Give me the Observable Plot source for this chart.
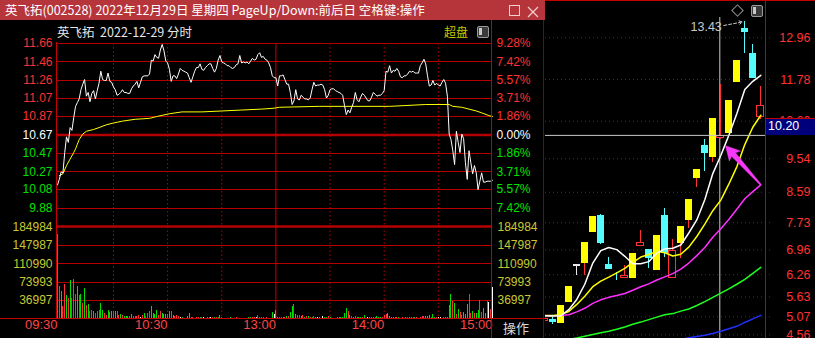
<!DOCTYPE html>
<html><head><meta charset="utf-8">
<script src="https://cdn.jsdelivr.net/npm/d3@7"></script>
<script src="https://cdn.jsdelivr.net/npm/@observablehq/plot@0.6"></script>
<style>
html,body{margin:0;padding:0;background:#000;}
#root{position:relative;width:815px;height:338px;overflow:hidden;background:#000;font-family:"Liberation Sans",Arial,sans-serif;}
.abs{position:absolute;}
.cjk{font-family:"Noto Sans CJK SC","Noto Sans",sans-serif;white-space:pre;}
</style></head>
<body><div id="root"></div>
<script>
// ---------------- intraday data (英飞拓 002528, 2022-12-29) ----------------
const preClose = 10.67;
const priceTicks = [11.66, 11.46, 11.26, 11.07, 10.87, 10.67, 10.47, 10.27, 10.08, 9.88];
const pctLabels = ["9.28%","7.42%","5.57%","3.71%","1.86%","0.00%","1.86%","3.71%","5.57%","7.42%"];
const volTicks = [184984, 147987, 110990, 73993, 36997];
const timeLabels = ["09:30","10:30","13:00","14:00","15:00"];
const timeSlots = [0, 61, 121, 181, 241];
const halfHourSlots = [31, 61, 91, 151, 181, 211];
const lunchSlot = 121;
const lastSlot = 241;

const price = [
10.13,10.19,10.27,10.26,10.48,10.65,10.59,10.75,10.72,10.86,
10.98,11.02,11.06,11.16,11.22,11.27,11.09,11.13,11.03,11.12,
11.15,11.06,11.15,11.23,11.36,11.27,11.26,11.26,11.34,11.25,
11.24,11.19,11.16,11.10,11.11,11.13,11.16,11.13,11.13,11.12,
11.12,11.17,11.20,11.22,11.25,11.18,11.24,11.30,11.31,11.31,
11.31,11.33,11.48,11.47,11.54,11.51,11.50,11.59,11.65,11.58,
11.47,11.45,11.38,11.25,11.31,11.31,11.28,11.33,11.39,11.37,
11.36,11.35,11.34,11.29,11.24,11.30,11.36,11.40,11.40,11.44,
11.38,11.37,11.40,11.42,11.44,11.44,11.39,11.35,11.39,11.48,
11.53,11.46,11.45,11.44,11.42,11.42,11.40,11.39,11.40,11.43,
11.44,11.53,11.45,11.46,11.45,11.46,11.44,11.47,11.50,11.48,
11.49,11.54,11.56,11.51,11.52,11.49,11.48,11.45,11.40,11.31,11.29,
11.29,11.20,11.31,11.31,11.32,11.27,11.22,11.22,11.13,11.00,
11.04,11.16,11.06,11.05,11.10,11.08,11.06,11.06,11.05,11.07,
11.16,11.24,11.20,11.21,11.21,11.22,11.21,11.16,11.07,11.10,
11.16,11.17,11.17,11.15,11.14,11.13,11.12,11.10,10.99,10.89,
10.94,10.91,10.97,11.02,11.13,11.05,11.03,11.08,11.12,11.10,
11.07,11.04,11.04,11.08,11.13,11.11,11.09,11.10,11.10,11.12,
11.15,11.36,11.35,11.42,11.34,11.37,11.36,11.39,11.36,11.30,
11.29,11.31,11.31,11.33,11.36,11.35,11.36,11.34,11.34,11.34,
11.42,11.45,11.49,11.44,11.31,11.20,11.21,11.26,11.21,11.23,
11.21,11.20,11.24,11.27,11.23,11.09,10.68,10.62,10.50,10.35,
10.71,10.59,10.48,10.68,10.63,10.37,10.19,10.50,10.37,10.25,
10.34,10.26,10.08,10.17,10.26,10.16,10.16,10.17,10.17,10.17,10.18];

const avgSlots = [1,3,5,7,9,10,11,12,14,16,20,23,27,31,36,43,51,55,62,69,80,91,102,113,120,123,145,184,204,217,219,224,228,232,235,239,241];
const avgPrice = [10.23,10.25,10.34,10.41,10.48,10.52,10.57,10.62,10.68,10.71,10.73,10.75,10.78,10.80,10.82,10.84,10.85,10.87,10.90,10.92,10.92,10.93,10.94,10.95,10.96,10.97,10.98,10.98,11.00,11.00,10.98,10.97,10.95,10.93,10.91,10.88,10.87];

const volume = [
170000,66000,56000,26000,70000,48000,42000,78000,42000,80000,
50000,66000,48000,50000,32000,62000,28000,30000,16000,18000,
16000,12000,16000,18000,32000,18000,12000,8000,18000,14000,
16000,16000,16000,16000,8000,10000,8000,6000,6000,6000,
6000,10000,6000,6000,6000,8000,4000,8000,12000,6000,
12000,16000,26000,12000,10000,18000,8000,16000,12000,10000,
10000,10000,16000,16000,8000,6000,8000,6000,4000,4000,
2000,2000,6000,12000,4000,4000,2000,4000,4000,4000,
4000,4000,2000,4000,4000,4000,4000,4000,4000,4000,
8000,4000,2000,2000,2000,2000,4000,2000,2000,4000,
2000,2000,2000,2000,2000,2000,4000,4000,4000,4000,
4000,8000,4000,4000,4000,2000,4000,2000,2000,14000,
10000,18000,4000,4000,4000,4000,4000,6000,6000,14000,
26000,30000,10000,8000,8000,6000,8000,4000,6000,6000,
4000,4000,6000,4000,4000,4000,2000,6000,4000,4000,
6000,4000,2000,2000,2000,4000,4000,4000,4000,12000,
22000,16000,8000,6000,4000,6000,4000,4000,4000,4000,
8000,2000,4000,4000,4000,4000,4000,6000,4000,4000,
4000,8000,10000,12000,6000,4000,4000,4000,4000,4000,
2000,4000,2000,4000,4000,4000,4000,4000,4000,4000,
2000,4000,6000,6000,6000,6000,8000,4000,10000,4000,
4000,4000,4000,2000,4000,4000,4000,28000,50000,36000,
32000,10000,20000,14000,8000,14000,10000,30000,50000,12000,
16000,12000,12000,18000,38000,14000,22000,12000,36000,34000,
20000,64000];
// r = up tick, g = down tick, w = unchanged
const volDir = "rrgrrgrgrr"+"rgrgrgrgrr"+"grrrggrrgg"+"grgrrgrggg"+"rgrrrrwrgr"+"rrggggrrgg"+"grgrgrrrwg"+"rwggrrgrrg"+"rwrggwrgrg"+"grgrrggrgr"+"rwwwwrggrr"+"wrgrrgrwrg"+"wggrrgrgrg"+"grgrrgrgrg"+"rgrgwgrwgg"+"rgwgwggggg"+"grgrgrgggr"+"grwgrrrggg"+"rrrgggggrg"+"grwgrggrgr"+"grrrgggrgg"+"rwwgrggggr"+"grgrrgggrr"+"grggrrggrw"+"rw";

// ---------------- daily K-line data ----------------
const kOpen  = [4.96,4.98,4.89,5.48,6.53,6.57,7.46,7.93,6.55,6.22,6.17,6.14,7.08,6.98,6.38,7.93,6.17,7.13,7.79,8.97,9.91,9.58,10.13,10.26,11.70,13.21,12.52,10.71];
const kHigh  = [5.03,5.04,5.40,5.94,6.53,7.18,7.90,7.95,6.76,6.33,6.52,6.85,7.51,6.98,7.38,8.12,7.25,7.63,8.39,9.23,10.08,10.67,11.65,11.20,12.32,13.43,12.76,11.58];
const kLow   = [4.95,4.85,4.89,5.48,6.24,6.24,7.46,7.12,6.41,6.10,6.17,6.14,7.08,6.43,6.38,6.76,6.17,6.73,7.56,8.72,9.19,9.44,10.08,10.26,11.70,12.51,11.82,10.64];
const kClose = [5.01,4.91,5.40,5.94,6.53,7.18,7.90,7.13,6.42,6.20,6.23,6.85,7.17,6.71,7.38,6.85,6.94,7.63,8.39,9.23,9.70,10.67,10.18,11.20,12.32,13.12,11.82,11.02];
const ma5   = [5.10,5.09,5.10,5.27,5.56,5.99,6.59,6.94,7.03,6.97,6.78,6.57,6.57,6.63,6.87,6.99,7.01,7.10,7.44,7.81,8.38,9.12,9.63,10.20,10.81,11.50,11.73,11.90];
const ma10  = [5.11,5.11,5.13,5.22,5.42,5.65,5.92,6.08,6.19,6.31,6.44,6.61,6.76,6.83,6.92,6.88,6.79,6.84,7.04,7.34,7.69,8.07,8.37,8.82,9.31,9.94,10.43,10.77];
const ma20  = [5.10,5.10,5.11,5.13,5.21,5.31,5.45,5.55,5.62,5.67,5.73,5.82,5.92,6.00,6.11,6.20,6.29,6.42,6.59,6.80,7.03,7.32,7.56,7.82,8.11,8.41,8.61,8.80];
const ma60  = [4.31,4.35,4.39,4.43,4.47,4.52,4.57,4.62,4.66,4.72,4.78,4.86,4.92,4.99,5.06,5.13,5.16,5.23,5.29,5.39,5.50,5.62,5.74,5.86,5.99,6.13,6.30,6.47];
const ma120 = [NaN,NaN,NaN,NaN,NaN,NaN,NaN,NaN,NaN,NaN,NaN,NaN,NaN,NaN,NaN,4.39,4.41,4.43,4.475,4.51,4.55,4.60,4.66,4.73,4.80,4.91,5.01,5.11];
const kTicks = [12.96, 11.78, 10.60, 9.54, 8.59, 7.73, 6.96, 6.26, 5.63, 5.07, 4.56];
const crossIndex = 22;          // 2022-12-29
const crossValue = 10.20;
const arrowTipValue = 9.91;

// ---------------- colours ----------------
const GRID = "#b40000", FRAME = "#c80000", RED = "#ff3232", GREEN = "#00e000", YEL = "#c8c832";
const CYAN = "#54fcfc", LIMIT = "#ffff00";
const lblColor = v => Math.abs(v - preClose) < 0.005 ? "#ffffff" : (v > preClose ? RED : GREEN);

const root = document.getElementById("root");
function place(el, left, top){ const d=document.createElement("div"); d.className="abs"; d.style.left=left+"px"; d.style.top=top+"px"; d.appendChild(el); root.appendChild(d); return d; }
function box(css){ const d=document.createElement("div"); d.className="abs"; d.style.cssText=css; root.appendChild(d); return d; }
function label(text, css, cls){ const d=document.createElement("div"); d.className="abs "+(cls||""); d.style.cssText=css; d.textContent=text; root.appendChild(d); return d; }

// ---------------- left: price panel ----------------
const yTop = priceTicks[0], yBottom = 2*preClose - priceTicks[0];
const priceRows = price.map((p,i)=>({i,p}));
const avgRows = avgSlots.map((s,j)=>({i:s,p:avgPrice[j]}));
const pricePlot = Plot.plot({
  width: 545, height: 338, marginLeft: 57, marginRight: 53, marginTop: 43, marginBottom: 112,
  x: {domain: [0, lastSlot], axis: null},
  y: {domain: [yBottom, yTop], axis: null},
  color: {type: "identity"},
  style: {background: "transparent", fontFamily: "Liberation Sans, Arial, sans-serif"},
  marks: [
    Plot.ruleY(priceTicks.filter(v => Math.abs(v-preClose)>0.005), {stroke: GRID, strokeWidth: 1, shapeRendering: "crispEdges"}),
    Plot.ruleY([preClose], {stroke: GRID, strokeWidth: 2.5}),
    Plot.ruleY([yBottom], {stroke: GRID, strokeWidth: 2.5}),
    Plot.ruleX(halfHourSlots, {stroke: GRID, strokeDasharray: "1.5,2.5"}),
    Plot.ruleX([lunchSlot], {stroke: FRAME}),
    Plot.line(avgRows, {x: "i", y: "p", stroke: "#ffff00", strokeWidth: 1}),
    Plot.line(priceRows, {x: "i", y: "p", stroke: "#ffffff", strokeWidth: 1}),
    Plot.text(priceTicks, {y: d=>d, text: d=>d.toFixed(2), frameAnchor: "left", dx: -5, textAnchor: "end", fill: d=>lblColor(d), fontSize: 12}),
    Plot.text(priceTicks, {y: d=>d, text: (d,i)=>pctLabels[i], frameAnchor: "right", dx: 4, textAnchor: "start", fill: d=>lblColor(d), fontSize: 12})
  ]
});
place(pricePlot, 0, 0);

// ---------------- left: volume panel ----------------
const dirColor = {r: RED, g: GREEN, w: "#ffffff"};
const volRows = volume.map((v,i)=>({i, v, c: dirColor[volDir[i]]}));
const volPlot = Plot.plot({
  width: 545, height: 338, marginLeft: 57, marginRight: 53, marginTop: 226.5, marginBottom: 19.5,
  x: {domain: [0, lastSlot], axis: null},
  y: {domain: [0, volTicks[0]], axis: null},
  color: {type: "identity"},
  style: {background: "transparent", fontFamily: "Liberation Sans, Arial, sans-serif"},
  marks: [
    Plot.ruleY(volTicks.slice(1), {stroke: GRID, shapeRendering: "crispEdges"}),
    Plot.ruleX(halfHourSlots, {stroke: GRID, strokeDasharray: "1.5,2.5"}),
    Plot.ruleX([lunchSlot], {stroke: FRAME}),
    Plot.ruleX(volRows, {x: "i", y1: 0, y2: "v", stroke: "c", strokeWidth: 1, shapeRendering: "crispEdges"}),
    Plot.text(volTicks, {y: d=>d, text: d=>String(d), frameAnchor: "left", dx: -5, textAnchor: "end", fill: YEL, fontSize: 12}),
    Plot.text(volTicks, {y: d=>d, text: d=>String(d), frameAnchor: "right", dx: 5, textAnchor: "start", fill: YEL, fontSize: 12}),
    Plot.text(timeLabels, {x: (d,i)=>timeSlots[i], text: d=>d, frameAnchor: "bottom", dy: 10, textAnchor: "end", fill: "#ff4646", fontSize: 13})
  ]
});
place(volPlot, 0, 0);

// frame lines of left window
box("left:56px;top:42px;width:1px;height:277px;background:"+FRAME);
box("left:491px;top:20px;width:1px;height:318px;background:"+FRAME);
box("left:0;top:318px;width:545px;height:1px;background:"+FRAME);
box("left:543px;top:20px;width:1px;height:318px;background:#8a0000");

// title bar
box("left:0;top:0;width:545px;height:20px;background:#b6353b");
label("英飞拓(002528) 2022年12月29日 星期四 PageUp/Down:前后日 空格键:操作", "left:5px;top:0;height:20px;line-height:20px;color:#fff;font-size:12.5px;", "cjk");
box("left:509px;top:5px;width:9px;height:9px;border:1px solid #f0d0d0;");
const xs = document.createElementNS("http://www.w3.org/2000/svg","svg");
xs.setAttribute("width","12"); xs.setAttribute("height","12");
xs.innerHTML = '<path d="M1,1L11,11M11,1L1,11" stroke="#f0d0d0" stroke-width="1.2"/>';
place(xs, 527, 4);

// subtitle row
label("英飞拓  2022-12-29 分时", "left:57px;top:22px;height:20px;line-height:20px;color:#e6e6e6;font-size:12.5px;", "cjk");
label("超盘", "left:444px;top:22px;height:20px;line-height:20px;color:#c8c800;font-size:12px;", "cjk");
box("left:477px;top:26px;width:10px;height:10px;border:1px solid #9a9a9a;border-radius:2px;background:#3a3a3a;");
box("left:479px;top:28px;width:3px;height:7px;background:#c8c8c8;");
label("操作", "left:503px;top:318px;height:20px;line-height:20px;color:#d8d8d8;font-size:13px;", "cjk");

// ---------------- right: K-line panel ----------------
const kxDom = [0.0875, 27.5875], kyDom = [4.456, 14.015];
const KW = 270, KH = 338, KMR = 50;
const xS = d3.scaleLinear(kxDom, [0, KW-KMR]);
const yS = d3.scaleLinear(kyDom, [KH, 0]);

const candles = kOpen.map((o,i)=>{
  const c = kClose[i], prev = i>0 ? kClose[i-1] : null;
  const lim = prev!=null && Math.abs(Math.round(prev*110)/100 - c) < 0.005;
  const kind = c > o ? (lim ? "limit" : "up") : (c < o ? "down" : "flat");
  return {i, o, h: kHigh[i], l: kLow[i], c, top: Math.max(o,c), bot: Math.min(o,c), kind};
});
const filled = candles.filter(d=>d.kind==="limit"||d.kind==="down");
const hollow = candles.filter(d=>d.kind==="up");
const flat = candles.filter(d=>d.kind==="flat");
const hw = 0.42;
const maRows = (arr) => arr.map((v,i)=>({i, v}));

// annotation geometry (pixel offsets turned back into data space)
const hiIdx = kHigh.indexOf(Math.max(...kHigh)), hiVal = kHigh[hiIdx];
const hx = xS(hiIdx), hy = yS(hiVal);
const hiArrow = [{x1: xS.invert(hx-21), y1: yS.invert(hy+4.3), x2: xS.invert(hx-2.5), y2: yS.invert(hy+0.8)}];
const T = [xS(crossIndex)+4.7, yS(arrowTipValue)], L = [xS(27), yS(ma20[27])];
const dx = L[0]-T[0], dy = L[1]-T[1], len = Math.hypot(dx,dy), ux = dx/len, uy = dy/len, nx = -uy, ny = ux;
const P = (a,b)=>({x: xS.invert(T[0]+a*ux+b*nx), y: yS.invert(T[1]+a*uy+b*ny)});
const poly = [P(0,0), P(14,7.5), P(12,2.6), {x: xS.invert(L[0]+0.6*nx), y: yS.invert(L[1]+0.6*ny)}, {x: xS.invert(L[0]-0.6*nx), y: yS.invert(L[1]-0.6*ny)}, P(12,-2.6), P(14,-7.5), P(0,0)];

const kPlot = Plot.plot({
  width: KW, height: KH, marginLeft: 0, marginRight: KMR, marginTop: 0, marginBottom: 0,
  x: {domain: kxDom, axis: null},
  y: {domain: kyDom, axis: null},
  color: {type: "identity"},
  style: {background: "transparent", fontFamily: "Liberation Sans, Arial, sans-serif"},
  marks: [
    Plot.ruleY(kTicks, {x1: () => kxDom[0], x2: () => kxDom[1] + 0.8, stroke: GRID, strokeDasharray: "1,3"}),
    // cross hair (vertical, just left of the selected candle)
    Plot.ruleX([crossIndex], {y1: kyDom[0], y2: yS.invert(17), dx: -1, stroke: "#c8c8c8"}),
    // candles
    Plot.ruleX(filled, {x: "i", y1: "l", y2: "h", stroke: d => d.kind==="limit" ? RED : CYAN, shapeRendering: "crispEdges"}),
    Plot.rect(filled, {x1: d=>d.i-hw, x2: d=>d.i+hw, y1: "bot", y2: "top", fill: d => d.kind==="limit" ? LIMIT : CYAN, shapeRendering: "crispEdges"}),
    Plot.ruleX(hollow, {x: "i", y1: "top", y2: "h", stroke: RED, shapeRendering: "crispEdges"}),
    Plot.ruleX(hollow, {x: "i", y1: "l", y2: "bot", stroke: RED, shapeRendering: "crispEdges"}),
    Plot.rect(hollow, {x1: d=>d.i-hw, x2: d=>d.i+hw, y1: "bot", y2: "top", fill: "#000", stroke: RED, shapeRendering: "crispEdges"}),
    Plot.ruleX(flat, {x: "i", y1: "l", y2: "h", stroke: "#e8e8e8", shapeRendering: "crispEdges"}),
    Plot.ruleY(flat, {x1: d=>d.i-hw, x2: d=>d.i+hw, y: "o", stroke: "#e8e8e8", strokeWidth: 1.5, shapeRendering: "crispEdges"}),
    // moving averages
    Plot.line(maRows(ma120), {x: "i", y: "v", stroke: "#2030ff"}),
    Plot.line(maRows(ma60), {x: "i", y: "v", stroke: "#20ff20"}),
    Plot.line(maRows(ma20), {x: "i", y: "v", stroke: "#ff30ff"}),
    Plot.line(maRows(ma10), {x: "i", y: "v", stroke: "#ffff00"}),
    Plot.line(maRows(ma5), {x: "i", y: "v", stroke: "#ffffff"}),
    // cross hair (horizontal)
    Plot.ruleY([crossValue], {stroke: "#c8c8c8"}),
    // max price annotation
    Plot.text([hiVal], {x: () => hiIdx, y: d=>d, text: d=>d.toFixed(2), dx: -23, dy: 5.5, textAnchor: "end", fill: "#c8c8c8", fontSize: 12.5}),
    Plot.arrow(hiArrow, {x1: "x1", y1: "y1", x2: "x2", y2: "y2", stroke: "#c8c8c8", strokeDasharray: "3,2", headLength: 5, strokeWidth: 1}),
    // drawn arrow
    Plot.line(poly, {x: "x", y: "y", fill: "#f838f8", stroke: "#f838f8", strokeWidth: 0.5}),
    // axis labels
    Plot.text(kTicks, {y: d=>d, text: d=>d.toFixed(2), frameAnchor: "right", dx: 45, textAnchor: "end", fill: RED, fontSize: 12.5})
  ]
});
place(kPlot, 545, 0);

// right panel chrome
box("left:545px;top:0;width:270px;height:1px;background:"+FRAME);
box("left:765px;top:0;width:1px;height:338px;background:"+FRAME);
const cy = Math.round(yS(crossValue));
box("left:766px;top:"+(cy-17)+"px;width:49px;height:16px;background:#00007c;border-top:1px solid "+FRAME+";");
label(crossValue.toFixed(2), "left:768px;top:"+(cy-17)+"px;height:17px;line-height:17px;color:#fff;font-size:12.5px;");
box("left:733px;top:6px;width:7px;height:7px;border:1px solid #909090;transform:rotate(45deg);");
box("left:751px;top:5px;width:10px;height:10px;border:1px solid #9a9a9a;border-radius:2px;background:#3a3a3a;");
box("left:753px;top:7px;width:3px;height:7px;background:#c8c8c8;");
</script></body></html>
